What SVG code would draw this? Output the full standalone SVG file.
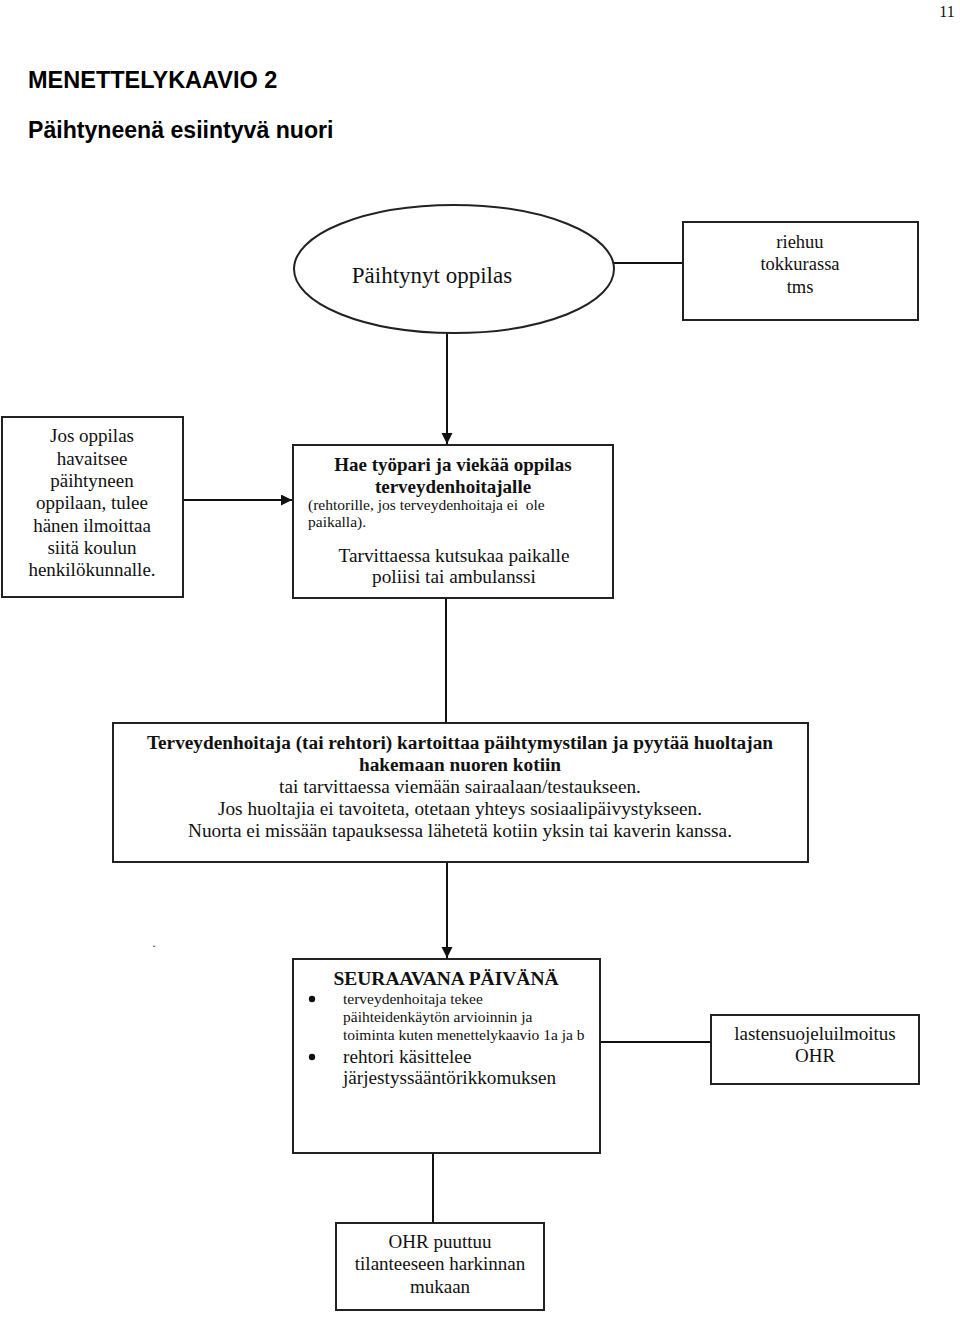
<svg xmlns="http://www.w3.org/2000/svg" width="960" height="1323" viewBox="0 0 960 1323">
<defs>
<style>
.box{fill:#fff;stroke:#222;stroke-width:2}
.ln{fill:none;stroke:#111;stroke-width:2}
.t{font-family:"Liberation Serif","Times New Roman",serif;fill:#111;text-anchor:middle}
.b{font-weight:bold}
.h{font-family:"Liberation Sans",Arial,sans-serif;font-weight:bold;fill:#000}
</style>
<marker id="arr" markerWidth="12" markerHeight="12" refX="11" refY="5.5" orient="auto" markerUnits="userSpaceOnUse">
<path d="M0,0 L11,5.5 L0,11 Z" fill="#111"/>
</marker>
</defs>
<rect width="960" height="1323" fill="#fff"/>
<text x="947" y="17" class="t" font-size="16">11</text>
<text x="28" y="88" class="h" font-size="23.5">MENETTELYKAAVIO 2</text>
<text x="28" y="138" class="h" font-size="23.1">Päihtyneenä esiintyvä nuori</text>

<g id="connectors">
<line class="ln" x1="614" y1="263" x2="683" y2="263"/>
<line class="ln" x1="447" y1="333" x2="447" y2="444" marker-end="url(#arr)"/>
<line class="ln" x1="183" y1="500" x2="292" y2="500" marker-end="url(#arr)"/>
<line class="ln" x1="446" y1="598" x2="446" y2="722"/>
<line class="ln" x1="447" y1="862" x2="447" y2="958" marker-end="url(#arr)"/>
<line class="ln" x1="600" y1="1042" x2="711" y2="1042"/>
<line class="ln" x1="433" y1="1153" x2="433" y2="1223"/>
</g>

<g id="n-start">
<ellipse class="box" cx="454" cy="269" rx="160" ry="64"/>
<text class="t" x="432" y="283" font-size="23">Päihtynyt oppilas</text>
</g>

<g id="n-riehuu">
<rect class="box" x="683" y="222" width="235" height="98"/>
<text class="t" x="800" y="248" font-size="18.5">riehuu</text>
<text class="t" x="800" y="270" font-size="18.5">tokkurassa</text>
<text class="t" x="800" y="293" font-size="18.5">tms</text>
</g>

<g id="n-observer">
<rect class="box" x="2" y="417" width="181" height="180"/>
<text class="t" x="92" y="442" font-size="19">Jos oppilas</text>
<text class="t" x="92" y="465" font-size="19">havaitsee</text>
<text class="t" x="92" y="487" font-size="19">päihtyneen</text>
<text class="t" x="92" y="509" font-size="19">oppilaan, tulee</text>
<text class="t" x="92" y="532" font-size="19">hänen ilmoittaa</text>
<text class="t" x="92" y="554" font-size="19">siitä koulun</text>
<text class="t" x="92" y="576" font-size="19">henkilökunnalle.</text>
</g>

<g id="n-hae">
<rect class="box" x="293" y="445" width="320" height="153"/>
<text class="t b" x="453" y="471" font-size="19">Hae työpari ja viekää oppilas</text>
<text class="t b" x="453" y="493" font-size="19">terveydenhoitajalle</text>
<text class="t" x="308" y="510" font-size="15.5" style="text-anchor:start" xml:space="preserve">(rehtorille, jos terveydenhoitaja ei  ole</text>
<text class="t" x="308" y="527" font-size="15.5" style="text-anchor:start">paikalla).</text>
<text class="t" x="454" y="562" font-size="19.3">Tarvittaessa kutsukaa paikalle</text>
<text class="t" x="454" y="583" font-size="19.3">poliisi tai ambulanssi</text>
</g>

<g id="n-kartoitus">
<rect class="box" x="113" y="723" width="695" height="139"/>
<text class="t b" x="460" y="749" font-size="19.3">Terveydenhoitaja (tai rehtori) kartoittaa päihtymystilan ja pyytää huoltajan</text>
<text class="t b" x="460" y="771" font-size="19.3">hakemaan nuoren kotiin</text>
<text class="t" x="460" y="793" font-size="19.3">tai tarvittaessa viemään sairaalaan/testaukseen.</text>
<text class="t" x="460" y="815" font-size="19.3">Jos huoltajia ei tavoiteta, otetaan yhteys sosiaalipäivystykseen.</text>
<text class="t" x="460" y="837" font-size="19.3">Nuorta ei missään tapauksessa lähetetä kotiin yksin tai kaverin kanssa.</text>
</g>

<text class="t" x="154" y="947" font-size="12">.</text>

<g id="n-seuraava">
<rect class="box" x="293" y="959" width="307" height="194"/>
<text class="t b" x="446" y="985" font-size="19.5">SEURAAVANA PÄIVÄNÄ</text>
<circle cx="312" cy="999" r="3.2" fill="#111"/>
<text class="t" x="343" y="1004" font-size="15.5" style="text-anchor:start">terveydenhoitaja tekee</text>
<text class="t" x="343" y="1022" font-size="15.5" style="text-anchor:start">päihteidenkäytön arvioinnin ja</text>
<text class="t" x="343" y="1040" font-size="15.5" style="text-anchor:start">toiminta kuten menettelykaavio 1a ja b</text>
<circle cx="312" cy="1057" r="3.2" fill="#111"/>
<text class="t" x="343" y="1063" font-size="19.2" style="text-anchor:start">rehtori käsittelee</text>
<text class="t" x="343" y="1084" font-size="19.2" style="text-anchor:start">järjestyssääntörikkomuksen</text>
</g>

<g id="n-lsi">
<rect class="box" x="711" y="1015" width="208" height="69"/>
<text class="t" x="815" y="1040" font-size="19">lastensuojeluilmoitus</text>
<text class="t" x="815" y="1062" font-size="19">OHR</text>
</g>

<g id="n-ohr">
<rect class="box" x="336" y="1223" width="208" height="87"/>
<text class="t" x="440" y="1248" font-size="19">OHR puuttuu</text>
<text class="t" x="440" y="1270" font-size="19">tilanteeseen harkinnan</text>
<text class="t" x="440" y="1293" font-size="19">mukaan</text>
</g>
</svg>
